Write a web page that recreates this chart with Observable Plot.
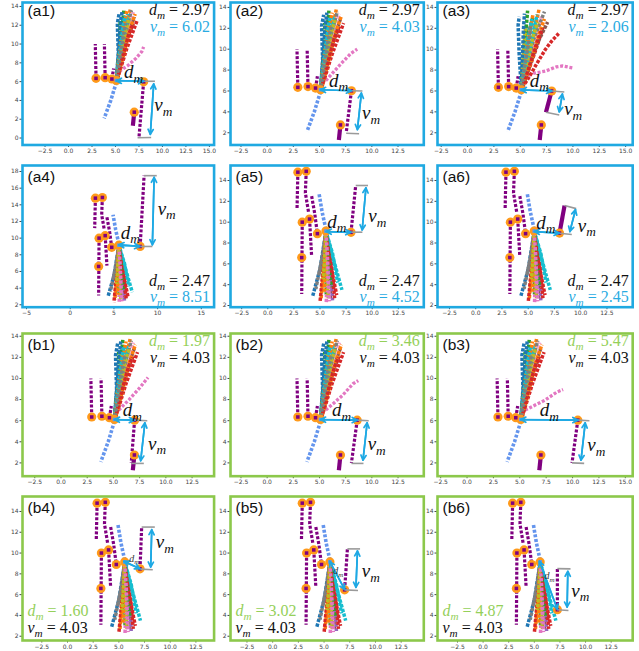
<!DOCTYPE html>
<html><head><meta charset="utf-8">
<script src="https://cdn.jsdelivr.net/npm/d3@7"></script>
<script src="https://cdn.jsdelivr.net/npm/@observablehq/plot@0.6"></script>
<style>
html,body{margin:0;padding:0;background:#fff;}
#fig{position:relative;width:639px;height:651px;overflow:hidden;background:#fff;}
#fig > div{position:absolute;}
</style></head><body><div id="fig"></div>
<script>
// ---------------- DATA ----------------
const panelNames = ["(a1)","(a2)","(a3)","(a4)","(a5)","(a6)","(b1)","(b2)","(b3)","(b4)","(b5)","(b6)"];
const dmValues = [2.97,2.97,2.97,2.47,2.47,2.47,1.97,3.46,5.47,1.60,3.02,4.87];
const vmValues = [6.02,4.03,2.06,8.51,4.52,2.45,4.03,4.03,4.03,4.03,4.03,4.03];
const sceneOfPanel = ["up","up","up","down","down","down","up","up","up","down","down","down"];

const xDomains = [[-4.9,15.5],[-3.5,14.96],[-2.85,15.67],[-5.46,16.46],[-3.57,14.94],[-3.64,14.95],
                  [-3.67,14.6],[-3.5,14.96],[-2.8,15.7],[-4.38,14.27],[-4.1,14.7],[-4.45,14.6]];
const yDomains = [[-0.74,14.42],[0.83,14.47],[0.83,14.47],[1.71,18.72],[1.84,15.44],[1.84,15.44],
                  [0.74,14.26],[0.74,14.26],[0.74,14.26],[1.59,15.44],[1.59,15.44],[1.59,15.44]];
const xTicksHalf = [-2.5,0,2.5,5,7.5,10,12.5,15];
const xTicksFive = [-5,0,5,10,15];
const yTicksEven = [0,2,4,6,8,10,12,14,16,18];

// scene "up": crowd walking upward, still agents at the left
const upStillTracks = [
  [[2.93,6.35],[2.85,10.0]],
  [[3.9,6.42],[3.82,10.0]],
  [[4.62,6.28],[4.8,7.4]]
];
const upSlowTrack = [[7.0,2.75],[6.85,1.3]];
const upPurpleOranges = [[2.93,6.35],[3.9,6.42],[4.62,6.28],[7.0,2.75]];
const upCrowdStart = [5.1,6.12];
const upCornflower = [[5.1,5.95],[4.5,4.0],[3.8,2.1]];
const pinkTracks = [
  [[5.4,7.1],[6.3,7.7],[7.2,8.5],[7.8,9.2],[8.0,9.7]],
  [[5.6,7.0],[7.0,8.55],[8.0,9.6],[8.6,10.0]],
  [[5.4,7.3],[6.3,7.7],[7.4,7.9],[8.4,8.3],[9.0,8.4],[10.0,8.2]],
  null, null, null,
  [[5.5,7.0],[6.5,8.0],[7.5,9.1],[8.3,10.1]],
  [[5.6,7.0],[7.2,8.4],[8.2,9.5],[8.7,9.8]],
  [[5.5,7.0],[6.5,7.5],[7.4,7.95],[8.5,8.7],[9.1,8.95]],
  null, null, null
];
const upCrowdColors = ["#1f77b4","#1f77b4","#ff7f0e","#2ca02c","#2ca02c","#d62728","#d62728","#8c564b","#f4a3cf","#7f7f7f",
                       "#bcbd22","#17becf","#17becf","#ff7f0e","#1f77b4","#bcbd22","#ff7f0e","#17becf","#d62728","#7f7f7f"];
const upCrowd = [
  [[5.1,6.2],[5.3,9.0],[5.2,12.2],[5.4,13.3]],
  [[5.1,6.2],[5.4,10.0],[5.6,12.8]],
  [[5.1,6.2],[5.8,10.0],[6.6,13.8]],
  [[5.1,6.2],[5.6,10.5],[5.9,13.7]],
  [[5.1,6.2],[5.5,10.0],[5.5,12.5]],
  [[5.2,6.3],[6.2,9.5],[7.3,12.5]],
  [[5.2,6.3],[6.0,10.0],[6.9,12.2]],
  [[5.2,6.3],[6.1,10.2],[7.0,12.9]],
  [[5.2,6.3],[6.0,10.5],[6.9,13.4]],
  [[5.1,6.2],[5.9,10.5],[6.7,13.6]],
  [[5.1,6.2],[5.5,9.5],[5.8,12.3]],
  [[5.1,6.2],[5.7,10.2],[6.3,13.2]],
  [[5.1,6.2],[5.8,11.0],[6.4,12.6]],
  [[5.1,6.2],[5.5,9.8],[6.2,13.5]],
  [[5.1,6.2],[5.35,8.5],[5.5,11.5],[5.7,13.5]],
  [[5.1,6.2],[5.6,9.0],[6.1,11.5],[6.5,12.8]],
  [[5.2,6.3],[5.9,9.0],[6.5,11.5],[7.1,13.2]],
  [[5.1,6.2],[5.45,9.0],[5.8,11.8],[6.0,13.0]],
  [[5.2,6.3],[5.8,8.8],[6.4,11.0],[6.8,12.0]],
  [[5.1,6.2],[5.5,8.8],[5.9,11.2],[6.1,12.2]]
];
const upCrowdSpread = [
  [[5.1,6.2],[4.9,9.5],[4.8,12.3],[4.9,13.1]],
  [[5.1,6.2],[5.3,10.0],[5.6,12.4]],
  [[5.1,6.2],[6.0,10.0],[6.8,13.9]],
  [[5.1,6.2],[5.4,10.0],[5.7,13.7]],
  [[5.1,6.2],[5.6,11.0],[6.2,13.0]],
  [[5.2,6.3],[6.0,7.6],[6.5,8.5],[7.4,10.0],[8.0,10.8],[8.65,11.5]],
  [[5.2,6.3],[6.5,10.0],[7.2,12.2]],
  [[5.2,6.3],[6.6,10.5],[7.6,12.6]],
  [[5.2,6.3],[6.2,10.5],[7.0,13.1]],
  [[5.1,6.2],[6.3,11.0],[7.3,13.6]],
  [[5.1,6.2],[5.3,9.5],[5.5,12.0]],
  [[5.1,6.2],[5.9,10.0],[6.6,13.3]],
  [[5.1,6.2],[5.7,11.0],[6.3,12.8]],
  [[5.1,6.2],[5.6,10.0],[6.2,13.3]],
  [[5.1,6.2],[5.2,9.0],[5.3,11.8],[5.4,13.4]],
  [[5.1,6.2],[5.7,9.0],[6.3,11.5],[6.7,12.6]],
  [[5.2,6.3],[6.1,9.0],[6.8,11.5],[7.3,12.9]],
  [[5.1,6.2],[5.5,9.0],[5.9,11.8],[6.1,12.9]],
  [[5.2,6.3],[6.0,8.8],[6.7,11.0],[7.1,12.0]],
  [[5.1,6.2],[5.5,8.8],[5.9,11.2],[6.0,12.3]]
];

// scene "down": crowd walking downward, still agents at the left
const downStillTracks = [
  [[2.88,14.8],[2.8,11.2]],
  [[3.68,14.88],[3.6,12.8],[3.9,11.0]],
  [[4.2,12.5],[4.5,10.8],[4.75,8.9]],
  [[4.0,10.3],[4.2,6.7]],
  [[3.3,10.0],[3.25,3.1]]
];
const downPurpleOranges = [[2.88,14.8],[3.68,14.88],[3.3,10.0],[4.0,10.3],[4.75,8.9],[3.25,6.6]];
const downCrowdStart = [5.57,9.15];
const downCornflower = [[5.57,9.3],[5.2,11.0],[4.9,12.8]];
const downCrowdColors = ["#1f77b4","#7f7f7f","#ff7f0e","#d62728","#2ca02c","#e377c2","#bcbd22","#8c564b","#9467bd","#d62728",
                         "#17becf","#17becf","#7f7f7f","#ff7f0e","#2ca02c","#d62728","#bcbd22","#e377c2"];
const downCrowd = [
  [[5.57,9.1],[5.0,5.5],[4.3,2.9]],
  [[5.57,9.1],[5.2,6.5],[4.6,3.6]],
  [[5.57,9.1],[5.4,6.0],[5.1,2.6]],
  [[5.57,9.1],[5.3,5.5],[5.0,2.3]],
  [[5.57,9.1],[5.6,6.0],[5.6,3.0]],
  [[5.57,9.1],[5.7,5.5],[5.6,2.2]],
  [[5.57,9.1],[5.6,6.0],[5.8,2.7]],
  [[5.57,9.1],[5.9,6.0],[6.0,2.6]],
  [[5.57,9.1],[6.0,6.0],[6.2,2.5]],
  [[5.57,9.1],[6.1,6.0],[6.4,2.7]],
  [[5.57,9.1],[6.3,6.4],[7.1,3.5]],
  [[5.57,9.1],[6.2,7.0],[6.7,4.2]],
  [[5.57,9.1],[5.3,7.0],[4.9,5.0]],
  [[5.57,9.1],[5.45,6.5],[5.4,3.2]],
  [[5.57,9.1],[5.8,7.0],[6.1,3.8]],
  [[5.57,9.1],[5.9,6.5],[6.6,3.0]],
  [[5.57,9.1],[5.5,7.5],[5.3,4.5]],
  [[5.57,9.1],[5.7,7.0],[5.9,2.4]]
];

// the moving agent of each panel, with its v_m and d_m markers
const moverTracks = [
  [[8.0,5.98],[7.5,0.05]], [[8.05,6.02],[7.55,2.0]], [[7.98,6.0],[7.44,3.96]],
  [[8.0,9.0],[8.45,17.5]], [[7.97,9.03],[8.42,13.52]], [[7.98,8.95],[8.46,11.6]],
  [[7.02,6.05],[6.7,2.0]], [[8.6,6.05],[8.05,2.0]], [[10.5,6.05],[9.95,2.0]],
  [[7.06,8.48],[7.22,12.5]], [[7.0,6.46],[7.27,10.4]], [[7.25,4.55],[7.25,8.5]]
];
const moverSolid = [false,false,true,false,false,true,false,false,false,false,false,false];
const grayTop = [
  [[8.0,6.04],[9.2,6.04]], [[8.05,6.02],[9.1,6.0]], [[7.98,6.0],[9.18,5.9]],
  [[8.45,17.5],[9.9,17.5]], [[8.42,13.52],[9.6,13.52]], [[8.46,11.6],[9.57,11.3]],
  [[7.02,6.05],[8.23,6.0]], [[8.6,6.05],[9.7,6.0]], [[10.5,6.05],[11.6,6.0]],
  [[7.22,12.5],[8.5,12.5]], [[7.27,10.4],[8.5,10.4]], [[7.25,8.5],[8.53,8.48]]
];
const grayBottom = [
  [[7.35,0.03],[8.8,0.05]], [[7.55,1.95],[8.78,1.9]], [[7.44,3.96],[8.7,3.7]],
  [[8.0,9.0],[9.4,9.0]], [[7.98,9.04],[9.06,9.04]], [[7.98,8.94],[9.15,8.82]],
  [[6.7,1.95],[7.9,1.95]], [[8.05,1.95],[9.2,1.95]], [[9.95,2.0],[11.1,1.95]],
  [[7.1,8.45],[8.3,8.4]], [[7.0,6.46],[8.3,6.4]], [[7.2,4.54],[8.33,4.48]]
];
const vmArrows = [
  [[9.07,5.76],[8.71,0.39]], [[9.0,5.8],[8.62,2.3]], [[9.0,5.7],[8.7,4.0]],
  [[9.6,17.3],[9.4,9.2]], [[9.4,13.3],[9.04,9.25]], [[9.5,11.2],[8.97,9.1]],
  [[8.0,5.8],[7.6,2.2]], [[9.55,5.8],[9.15,2.25]], [[11.2,5.8],[10.8,2.25]],
  [[8.2,12.25],[8.1,8.65]], [[8.25,10.2],[8.1,6.7]], [[8.27,8.25],[8.2,4.8]]
];
const dmArrows = [
  [[5.1,6.1],[8.0,6.04]], [[5.1,6.12],[8.05,6.02]], [[5.1,6.1],[7.98,6.0]],
  [[5.57,9.2],[7.95,9.0]], [[5.6,9.1],[7.95,9.03]], [[5.6,9.1],[7.95,8.95]],
  [[5.1,6.1],[7.0,6.05]], [[5.1,6.1],[8.6,6.05]], [[5.1,6.1],[10.5,6.05]],
  [[5.5,9.2],[7.05,8.5]], [[5.55,9.2],[7.0,6.5]], [[5.5,9.2],[7.25,4.6]]
];
const dmLabelPos = [[5.9,7.0],[5.9,7.0],[5.9,7.0],[5.77,10.68],[5.7,10.06],[5.77,9.97],
                    [5.9,7.0],[6.2,7.0],[6.9,7.0],[6.0,9.45],[5.9,8.25],[6.0,7.8]];
const vmLabelPos = [[9.14,3.5],[9.07,3.9],[9.17,4.25],[10.0,13.56],[9.63,10.6],[9.72,9.68],
                    [8.3,3.84],[9.6,3.8],[11.4,3.7],[8.6,11.05],[8.66,8.3],[8.6,6.4]];

// ---------------- STYLE / LAYOUT ----------------
const purple = "#800080", orange = "#ff9a1a", cornflower = "#6495ed", pink = "#e377c2";
const arrowBlue = "#1ea9e4", grayLine = "#9a9a9a";
const frameBlue = "#1fa9e1", frameGreen = "#8cc84b", hiBlue = "#29abe2", hiGreen = "#95d05a";
const colFrames = [[21.7,213.3],[230,423.3],[436.5,631.7]];
const rowFrames = [[1.5,144],[165,306.7],[333.3,476],[496,640]];
const serif = "Liberation Serif, DejaVu Serif, serif";
const dotted = {strokeDasharray: "3 1.7", strokeLinecap: "butt", strokeLinejoin: "miter"};
const crowdDash = "3.3 1.5";
const fmtHalf = d => (d < 0 ? "\u2212" : "") + Math.abs(d).toFixed(1);
const fmtInt = d => (d < 0 ? "\u2212" : "") + Math.abs(d);
const X = d => d[0], Y = d => d[1];

function arrowPair(seg, opts) {
  return [
    Plot.arrow([seg], {x1: d => d[0][0], y1: d => d[0][1], x2: d => d[1][0], y2: d => d[1][1], ...opts}),
    Plot.arrow([seg], {x1: d => d[1][0], y1: d => d[1][1], x2: d => d[0][0], y2: d => d[0][1], ...opts})
  ];
}

function buildPanel(i) {
  const row = Math.floor(i / 3), col = i % 3;
  const up = sceneOfPanel[i] === "up";
  const [fx0, fx1] = colFrames[col], [fy0, fy1] = rowFrames[row];
  const ML = 22, MR = 4, MT = 3, MB = 14;
  const width = fx1 - fx0 + ML + MR, height = fy1 - fy0 + MT + MB;
  const xd = xDomains[i], yd = yDomains[i];
  const xt = (i === 3 ? xTicksFive : xTicksHalf).filter(v => v >= xd[0] && v <= xd[1]);
  const yt = yTicksEven.filter(v => v >= yd[0] && v <= yd[1]);
  const marks = [];

  for (const t of (up ? upStillTracks : downStillTracks))
    marks.push(Plot.line(t, {x: X, y: Y, stroke: purple, strokeWidth: 3.2, ...dotted}));
  marks.push(Plot.line(up ? upCornflower : downCornflower, {x: X, y: Y, stroke: cornflower, strokeWidth: 3.6, ...dotted}));
  if (up) marks.push(Plot.line(pinkTracks[i], {x: X, y: Y, stroke: pink, strokeWidth: 3.3, ...dotted}));
  const crowd = i === 2 ? upCrowdSpread : (up ? upCrowd : downCrowd);
  const colors = up ? upCrowdColors : downCrowdColors;
  crowd.forEach((t, k) => marks.push(Plot.line(t, {x: X, y: Y, stroke: colors[k], strokeWidth: 3.5,
    strokeDasharray: crowdDash, strokeDashoffset: (k * 1.9) % 4.8, strokeLinecap: "butt", strokeLinejoin: "miter"})));
  const mv = moverTracks[i];
  marks.push(Plot.line(mv, moverSolid[i]
    ? {x: X, y: Y, stroke: purple, strokeWidth: 4.2, strokeLinecap: "butt"}
    : {x: X, y: Y, stroke: purple, strokeWidth: 3.2, ...dotted}));
  if (up) marks.push(Plot.line(upSlowTrack, {x: X, y: Y, stroke: purple, strokeWidth: 4.2, strokeLinecap: "butt"}));

  const purpleOr = (up ? upPurpleOranges : downPurpleOranges).concat([mv[0]]);
  const start = up ? upCrowdStart : downCrowdStart;
  marks.push(Plot.dot(purpleOr.concat([start]), {x: X, y: Y, r: 4.6, fill: orange}));
  marks.push(Plot.dot(purpleOr, {x: X, y: Y, r: 2.0, symbol: "square", fill: purple}));
  marks.push(Plot.dot([start], {x: X, y: Y, r: 2.0, symbol: "square", fill: cornflower}));

  marks.push(Plot.link([grayTop[i], grayBottom[i]], {x1: d => d[0][0], y1: d => d[0][1], x2: d => d[1][0], y2: d => d[1][1], stroke: grayLine, strokeWidth: 1.6}));
  marks.push(...arrowPair(vmArrows[i], {stroke: arrowBlue, strokeWidth: 1.7, headLength: 5, headAngle: 55}));
  marks.push(...arrowPair(dmArrows[i], {stroke: arrowBlue, strokeWidth: 1.7, headLength: 5, headAngle: 55}));

  const smallDm = row === 3;
  marks.push(Plot.text([dmLabelPos[i]], {x: X, y: Y, text: () => "d~m~", textAnchor: "start",
    fontFamily: serif, fontSize: smallDm ? 10 : 19, fill: smallDm ? "#333" : "#111"}));
  marks.push(Plot.text([vmLabelPos[i]], {x: X, y: Y, text: () => "v~m~", textAnchor: "start",
    fontFamily: serif, fontSize: 19, fill: "#111"}));

  // panel name
  marks.push(Plot.text([panelNames[i]], {frameAnchor: "top-left", text: d => d, dx: 5, dy: row === 0 ? 14 : 17,
    lineAnchor: "bottom", textAnchor: "start", fontFamily: "Liberation Sans, Arial, sans-serif", fontSize: 15.5, fill: "#111"}));

  // statistics
  const dmStr = `d~m~ = ${dmValues[i].toFixed(2)}`, vmStr = `v~m~ = ${vmValues[i].toFixed(2)}`;
  const dmColor = row >= 2 ? hiGreen : "#111", vmColor = row < 2 ? hiBlue : "#111";
  let anchor, dx, dys, ta;
  if (row === 0 || row === 2) { anchor = "top-right"; dx = -4; dys = [13, 29.5]; ta = "end"; }
  else if (row === 1) { anchor = "bottom-right"; dx = -4; dys = [-21.5, -5]; ta = "end"; }
  else { anchor = "bottom-left"; dx = 5; dys = [-24, -7.5]; ta = "start"; }
  marks.push(Plot.text([dmStr], {frameAnchor: anchor, text: d => d, dx, dy: dys[0], lineAnchor: "bottom", textAnchor: ta, fontFamily: serif, fontSize: 16, fill: dmColor}));
  marks.push(Plot.text([vmStr], {frameAnchor: anchor, text: d => d, dx, dy: dys[1], lineAnchor: "bottom", textAnchor: ta, fontFamily: serif, fontSize: 16, fill: vmColor}));

  marks.push(Plot.frame({stroke: row < 2 ? frameBlue : frameGreen, strokeWidth: 2.6}));

  const svg = Plot.plot({
    width, height, marginLeft: ML, marginRight: MR, marginTop: MT, marginBottom: MB,
    x: {domain: xd, ticks: xt, tickFormat: i === 3 ? fmtInt : fmtHalf, tickSize: 2.5, tickPadding: 1.5, label: null},
    y: {domain: yd, ticks: yt, tickFormat: fmtInt, tickSize: 2.5, tickPadding: 1.5, label: null},
    style: {fontFamily: "DejaVu Sans, sans-serif", fontSize: "6px", color: "#444", background: "transparent", overflow: "visible"},
    marks
  });
  const holder = document.createElement("div");
  holder.style.left = (fx0 - ML) + "px";
  holder.style.top = (fy0 - MT) + "px";
  holder.appendChild(svg);
  return holder;
}

function mathify(root) {
  const ns = "http://www.w3.org/2000/svg";
  root.querySelectorAll("text").forEach(t => {
    const s = t.textContent;
    if (!s.includes("~")) return;
    const [sym, sub, rest] = s.split("~");
    const fs = parseFloat(getComputedStyle(t).fontSize) || 16;
    t.textContent = "";
    const a = document.createElementNS(ns, "tspan");
    a.setAttribute("font-style", "italic"); a.textContent = sym;
    const b = document.createElementNS(ns, "tspan");
    b.setAttribute("font-style", "italic"); b.setAttribute("font-size", (fs * 0.7).toFixed(1));
    b.setAttribute("dy", (fs * 0.25).toFixed(1)); b.textContent = sub;
    t.append(a, b);
    if (rest) {
      const c = document.createElementNS(ns, "tspan");
      c.setAttribute("dy", (-fs * 0.25).toFixed(1)); c.textContent = rest;
      t.append(c);
    }
  });
}

const fig = document.getElementById("fig");
for (let i = 0; i < 12; i++) fig.appendChild(buildPanel(i));
mathify(fig);
</script></body></html>
